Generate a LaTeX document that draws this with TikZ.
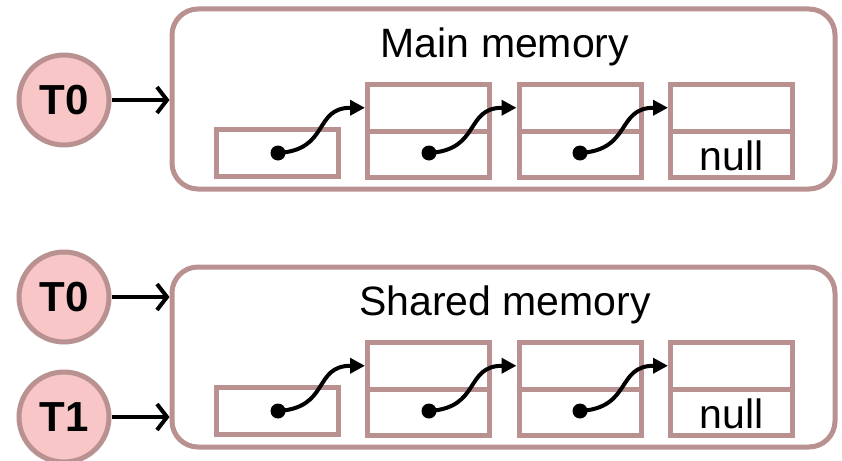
\documentclass[tikz,border=0pt]{standalone}
\usepackage{fontspec}
\setmainfont{Liberation Sans}
\usetikzlibrary{arrows.meta,calc}
\definecolor{frame}{RGB}{185,145,145}
\definecolor{threadfill}{RGB}{248,198,198}
\tikzset{
  memory/.style={draw=frame, line width=5pt, rounded corners=26pt,
    minimum width=663pt, minimum height=180pt, inner sep=0pt},
  cellbox/.style={draw=frame, line width=5pt, minimum width=122pt,
    minimum height=46.5pt, inner sep=0pt, fill=white},
  thread/.style={circle, draw=frame, fill=threadfill, line width=5pt,
    minimum size=90pt, inner sep=0pt, font=\fontsize{42}{42}\selectfont\bfseries},
  label/.style={font=\fontsize{41}{48}\selectfont, inner sep=0pt},
  access/.style={line width=4pt, -{Straight Barb[length=10pt,width=26pt,line width=4pt]}},
  link/.style={line width=4pt, -{Triangle[length=15pt,width=15pt]}},
  ptr/.style={circle, fill=black, minimum size=15pt, inner sep=0pt},
}
\begin{document}
\begin{tikzpicture}[x=1pt,y=-1pt]
  \useasboundingbox (0,0) rectangle (842,460);

  % two memories, each holding the same linked list
  \foreach \p/\dy/\title in {m/0/Main memory, s/258/Shared memory}{
    \node[memory] (\p mem) at (503.5,99+\dy) {};
    \node[label] (\p title) at (505,47+\dy) {\title};
    % head cell
    \node[cellbox] (\p c1) at (277.5,153+\dy) {};
    % list nodes: top cell (data) and bottom cell (next pointer)
    \node[cellbox] (\p a2) at (428.5,107.75+\dy) {};
    \node[cellbox] (\p b2) at (428.5,154.25+\dy) {};
    \node[cellbox] (\p a3) at (580,107.75+\dy) {};
    \node[cellbox] (\p b3) at (580,154.25+\dy) {};
    \node[cellbox] (\p a4) at (731.5,107.75+\dy) {};
    \node[cellbox] (\p b4) at (731.5,154.25+\dy) {};
    \node[label] (\p null) at (731.5,156+\dy) {null};
    % pointer origins
    \node[ptr] (\p d1) at (278,153+\dy) {};
    \node[ptr] (\p d2) at (429,153+\dy) {};
    \node[ptr] (\p d3) at (580,153+\dy) {};
    \draw[link] (\p d1.center) .. controls ++(52,-3) and ++(-52,0) .. (\p a2.west);
    \draw[link] (\p d2.center) .. controls ++(52,-3) and ++(-52,0) .. (\p a3.west);
    \draw[link] (\p d3.center) .. controls ++(52,-3) and ++(-52,0) .. (\p a4.west);
  }

  % threads
  \node[thread] (t0a) at (64,100) {T0};
  \node[thread] (t0b) at (64,297) {T0};
  \node[thread] (t1b) at (64,417) {T1};
  \draw[access] (t0a.east) -- (t0a -| mmem.west);
  \draw[access] (t0b.east) -- (t0b -| smem.west);
  \draw[access] (t1b.east) -- (t1b -| smem.west);
\end{tikzpicture}
\end{document}
